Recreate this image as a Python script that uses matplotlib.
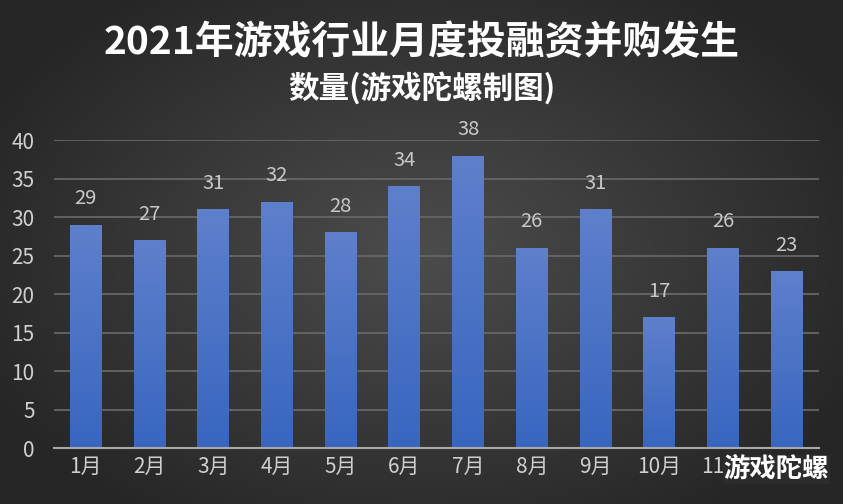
import matplotlib.pyplot as plt
import numpy as np

plt.rcParams['font.family'] = ['Noto Sans CJK SC', 'DejaVu Sans']

months = ['1月', '2月', '3月', '4月', '5月', '6月', '7月', '8月', '9月', '10月', '11月', '12月']
counts = [29, 27, 31, 32, 28, 34, 38, 26, 31, 17, 26, 23]
yticks = [0, 5, 10, 15, 20, 25, 30, 35, 40]

fig = plt.figure(figsize=(8.43, 5.04), dpi=100)

# radial dark background
bg = fig.add_axes([0, 0, 1, 1], zorder=-10)
yy, xx = np.mgrid[-1:1:300j, -1:1:500j]
r = np.sqrt(xx ** 2 + (yy * 0.9) ** 2)
shade = np.clip(0.30 - 0.13 * r, 0.15, 0.30)
bg.imshow(np.dstack([shade, shade * 0.995, shade * 0.995]), aspect='auto', extent=[0, 1, 0, 1])
bg.axis('off')

ax = fig.add_axes([0.064, 0.111, 0.907, 0.611])
ax.patch.set_alpha(0)
x = np.arange(len(months))
bars = ax.bar(x, counts, width=0.5, color='#4a72c8', zorder=3)

# vertical gradient on each bar
grad = np.linspace(0, 1, 100).reshape(-1, 1)
top = np.array([0.37, 0.50, 0.80])
bot = np.array([0.22, 0.40, 0.75])
img = top * (1 - grad[..., None]) + bot * grad[..., None]
img = img.reshape(100, 1, 3)
for b in bars:
    bx, bw, bh = b.get_x(), b.get_width(), b.get_height()
    im = ax.imshow(img, extent=[bx, bx + bw, 0, bh], aspect='auto', zorder=4)
    im.set_clip_path(b)

for xi, v in zip(x, counts):
    ax.text(xi, v + 2.0, str(v), ha='center', va='bottom', color='#c8c8c8', fontsize=14.5, zorder=5)

ax.set_xlim(-0.5, len(months) - 0.5)
ax.set_ylim(0, 40)
ax.set_yticks(yticks)
ax.set_xticks(x)
ax.set_xticklabels(months)
ax.grid(axis='y', color='#666666', linewidth=1.3, zorder=1)
ax.tick_params(colors='#d0d0d0', labelsize=15, length=0, pad=6)
ax.tick_params(axis='y', pad=14)
for s in ['top', 'right', 'left']:
    ax.spines[s].set_visible(False)
ax.spines['bottom'].set_color('#a8a8a8')
ax.spines['bottom'].set_linewidth(1.5)
ax.spines['bottom'].set_zorder(6)

fig.text(0.5, 0.915, '2021年游戏行业月度投融资并购发生', ha='center', va='center',
         color='white', fontsize=28, fontweight='bold')
fig.text(0.5, 0.825, '数量(游戏陀螺制图)', ha='center', va='center',
         color='white', fontsize=22, fontweight='bold')

fig.text(0.921, 0.068, '游戏陀螺', ha='center', va='center', color='white',
         fontsize=19, fontweight='bold',
         bbox=dict(facecolor='#2c2c2c', edgecolor='none', pad=0.5))

fig.savefig('out.png', dpi=100)
